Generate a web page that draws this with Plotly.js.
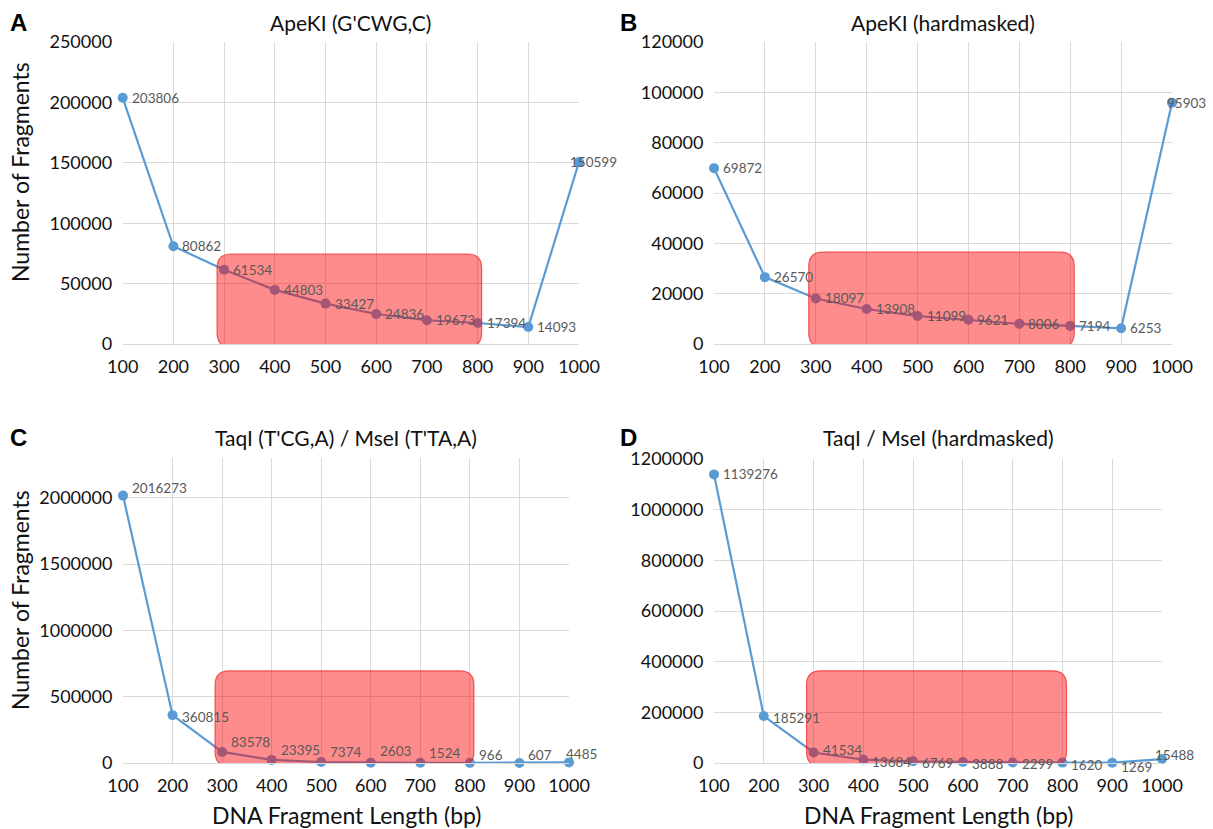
<!DOCTYPE html>
<html><head><meta charset="utf-8">
<script src="https://cdn.plot.ly/plotly-3.0.1.min.js"></script>
<style>html,body{margin:0;padding:0;background:#fff}#chart{width:1213px;height:829px}</style>
</head><body><div id="chart"></div>
<script>
// ---- data ----
const lengths = [100,200,300,400,500,600,700,800,900,1000];
const apekiCounts = [203806,80862,61534,44803,33427,24836,19673,17394,14093,150599];
const apekiMaskedCounts = [69872,26570,18097,13908,11099,9621,8006,7194,6253,95903];
const taqMseCounts = [2016273,360815,83578,23395,7374,2603,1524,966,607,4485];
const taqMseMaskedCounts = [1139276,185291,41534,13684,6769,3888,2299,1620,1269,15488];
const panelTitles = ["ApeKI (G'CWG,C)","ApeKI (hardmasked)","TaqI (T'CG,A) / MseI (T'TA,A)","TaqI / MseI (hardmasked)"];
const panelLetters = ["A","B","C","D"];
const selectRange = [300,800];
const selectTop = [74500,36500,694000,364000];

// ---- layout config ----
const W=1213,H=829;
const px = [ // plot boxes in pixels: left,right,top,bottom
  [122.7,579,42,344],[714,1172,42,344],[123,569,458,763],[714,1162,459,763]];
const yMax = [250000,120000,2300000,1200000];
const yStep = [50000,20000,500000,200000];
const yTickMax = [250000,120000,2000000,1200000];
const labelLift = [[0,0,0,0,0,0,0,0,0,0],[0,0,0,0,0,0,0,0,0,0],[8,-2,10,10,10,12,10,8,8,8],[0,-2,2,-2,-2,-2,-2,-2,-4,4]];
const series = [apekiCounts,apekiMaskedCounts,taqMseCounts,taqMseMaskedCounts];
const blue = '#5b9bd5';
const font = 'Lato, "Open Sans", sans-serif';
const ink = '#111';

const data=[], layout={width:W,height:H,margin:{l:0,r:0,t:0,b:0},paper_bgcolor:'#fff',plot_bgcolor:'#fff',showlegend:false,annotations:[],shapes:[],font:{family:font}};

function roundedPath(x0,x1,y0,y1,rx,ry){
  return `M ${x0+rx} ${y0} L ${x1-rx} ${y0} Q ${x1} ${y0} ${x1} ${y0+ry} L ${x1} ${y1-ry} Q ${x1} ${y1} ${x1-rx} ${y1} L ${x0+rx} ${y1} Q ${x0} ${y1} ${x0} ${y1-ry} L ${x0} ${y0+ry} Q ${x0} ${y0} ${x0+rx} ${y0} Z`;
}

series.forEach((vals,i)=>{
  const n=i+1, xa='x'+(n===1?'':n), ya='y'+(n===1?'':n);
  const [L,R,T,B]=px[i];
  const xdom=[L/W,R/W], ydom=[1-B/H,1-T/H];
  const tv=[]; for(let v=0;v<=yTickMax[i];v+=yStep[i]) tv.push(v);
  layout['xaxis'+(n===1?'':n)]={domain:xdom,anchor:ya,range:[100,1000],tickvals:lengths,ticktext:lengths.map(String),
    showgrid:true,gridcolor:'#d9d9d9',gridwidth:1,zeroline:false,showline:true,linecolor:'#d9d9d9',linewidth:1,
    ticks:'outside',ticklen:6,tickcolor:'rgba(0,0,0,0)',tickfont:{family:font,size:18,color:ink},fixedrange:true};
  layout['yaxis'+(n===1?'':n)]={domain:ydom,anchor:xa,range:[0,yMax[i]],tickvals:tv,ticktext:tv.map(String),
    showgrid:true,gridcolor:'#d9d9d9',gridwidth:1,zeroline:false,showline:false,
    ticks:'outside',ticklen:6,tickcolor:'rgba(0,0,0,0)',tickfont:{family:font,size:18,color:ink},fixedrange:true};
  data.push({type:'scatter',mode:'lines+markers',x:lengths,y:vals,xaxis:xa,yaxis:ya,cliponaxis:false,
    line:{color:blue,width:2.2},marker:{color:blue,size:10},hoverinfo:'x+y'});
  // data labels
  vals.forEach((v,k)=>{
    const last = k===lengths.length-1;
    layout.annotations.push({xref:xa,yref:ya,x:lengths[k],y:v,text:String(v),showarrow:false,
      xanchor:last?'center':'left',xshift:last?(i>=2?12:14):7,yshift:labelLift[i][k],
      font:{family:font,size:13.5,color:'#595959'}});
  });
  // highlight box
  const xs=(1000-100)/(R-L), ys=yMax[i]/(B-T);
  layout.shapes.push({type:'path',xref:xa,yref:ya,layer:'above',
    path:roundedPath(selectRange[0]-7*xs,selectRange[1]+4*xs,-3*ys,selectTop[i],14*xs,14*ys),
    fillcolor:'rgba(255,0,0,0.45)',line:{color:'rgba(240,40,40,0.75)',width:1.2}});
  // title
  layout.annotations.push({xref:'paper',yref:'paper',x:(L+R)/2/W,y:1-(i<2?22:437)/H,text:panelTitles[i],showarrow:false,
    xanchor:'center',yanchor:'middle',font:{family:font,size:21,color:ink}});
  // letter
  layout.annotations.push({xref:'paper',yref:'paper',x:(i%2===0?18:628)/W,y:1-(i<2?22:437)/H,text:'<b>'+panelLetters[i]+'</b>',showarrow:false,
    xanchor:'center',yanchor:'middle',font:{family:'Liberation Sans, Arial, sans-serif',size:24,color:'#000'}});
});
// axis titles
[[0,172],[2,600]].forEach(([i,cy])=>{
  layout.annotations.push({xref:'paper',yref:'paper',x:20/W,y:1-cy/H,text:'Number of Fragments',textangle:-90,showarrow:false,
    xanchor:'center',yanchor:'middle',font:{family:font,size:23,color:ink}});
});
[2,3].forEach(i=>{
  const [L,R]=px[i];
  layout.annotations.push({xref:'paper',yref:'paper',x:(L+R)/2/W,y:1-815/H,text:'DNA Fragment Length (bp)',showarrow:false,
    xanchor:'center',yanchor:'middle',font:{family:font,size:23,color:ink}});
});
Plotly.newPlot('chart',data,layout,{staticPlot:true,displayModeBar:false});
</script></body></html>
